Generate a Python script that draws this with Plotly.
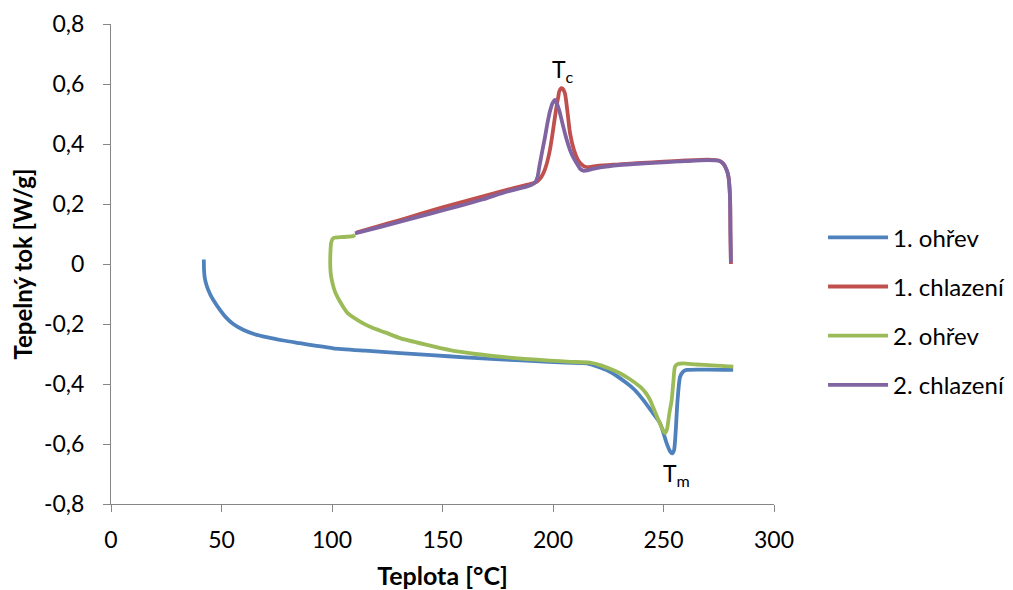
import plotly.graph_objects as go

# ---- data ----
ohrev1_x = [42.0, 42.1, 42.4, 43.2, 44.8, 46.3, 49.3, 52, 55.3, 60, 65, 70.4, 78, 85.5, 93, 100.6, 115, 130.8,
            145, 160, 176, 190, 206, 215.2, 221.3, 226, 233.3, 237, 240.8, 244.5, 248.4, 251.4, 253, 254,
            254.8, 255.5, 256.3, 257.5, 259, 260.5, 270, 281.5]
ohrev1_y = [0.015, -0.02, -0.045, -0.07, -0.10, -0.12, -0.153, -0.178, -0.20, -0.22, -0.234, -0.244, -0.255,
            -0.264, -0.273, -0.281, -0.289, -0.297, -0.304, -0.311, -0.318, -0.323, -0.329, -0.331, -0.345,
            -0.36, -0.397, -0.42, -0.453, -0.49, -0.53, -0.597, -0.625, -0.631, -0.62, -0.56, -0.46, -0.376,
            -0.358, -0.353, -0.352, -0.353]

chlaz1_x = [280.5, 280.3, 280.1, 279.4, 278.6, 277, 275, 270, 260, 250, 240, 230, 220, 216.5, 214.5, 212.8,
            211.3, 209.5, 207.7, 206.5, 205.4, 204.4, 203.6, 202.8, 202.4, 201.6, 200.9, 199.7, 198.6, 197,
            195.6, 194, 192.6, 190, 180, 170, 160, 150, 140, 130, 120, 111]
chlaz1_y = [0.0, 0.10, 0.224, 0.291, 0.313, 0.335, 0.345, 0.348, 0.345, 0.341, 0.337, 0.332, 0.327, 0.323,
            0.324, 0.333, 0.347, 0.38, 0.436, 0.51, 0.569, 0.584, 0.586, 0.575, 0.558, 0.525, 0.491, 0.43,
            0.38, 0.33, 0.302, 0.283, 0.274, 0.267, 0.249, 0.229, 0.209, 0.189, 0.167, 0.145, 0.124, 0.105]

ohrev2_x = [110.4, 109.5, 105, 100.5, 99.6, 99.3, 99.2, 99.4, 99.9, 100.8, 101.8, 103.6, 107, 112.7, 118,
            124, 130.8, 142, 153.4, 165, 176, 187, 198.6, 208, 216.7, 221.3, 226, 230.3, 235, 239.4, 242,
            243.9, 246, 247.7, 249.5, 250.7, 251.6, 252.6, 253.7, 254.5, 255.2, 256.5, 259, 265, 272, 281.6]
ohrev2_y = [0.097, 0.093, 0.09, 0.086, 0.07, 0.04, 0.0, -0.03, -0.053, -0.08, -0.10, -0.125, -0.163, -0.192,
            -0.212, -0.228, -0.247, -0.268, -0.287, -0.300, -0.309, -0.316, -0.322, -0.326, -0.329, -0.337,
            -0.35, -0.364, -0.385, -0.409, -0.43, -0.453, -0.49, -0.52, -0.55, -0.564, -0.55, -0.50, -0.453,
            -0.39, -0.342, -0.333, -0.331, -0.335, -0.338, -0.342]

chlaz2_x = [280.5, 280.3, 280.1, 279.4, 278.6, 277, 275, 270, 260, 250, 240, 230, 221.3, 217.5, 215.5,
            213.7, 212.2, 210.7, 209.2, 207.7, 206.5, 205.4, 204.3, 203.2, 202, 200.9, 199.8, 198.6, 197.5,
            196.4, 195.1, 193.8, 193, 191.9, 189.6, 179, 168, 156.4, 145, 133.8, 122, 110.4]
chlaz2_y = [0.005, 0.10, 0.224, 0.291, 0.313, 0.335, 0.344, 0.346, 0.343, 0.339, 0.335, 0.330, 0.322, 0.316,
            0.312, 0.311, 0.318, 0.336, 0.355, 0.38, 0.407, 0.436, 0.468, 0.502, 0.53, 0.547, 0.536, 0.508,
            0.47, 0.424, 0.375, 0.324, 0.29, 0.272, 0.262, 0.241, 0.215, 0.191, 0.169, 0.147, 0.124, 0.102]

series_names = ["1. ohřev", "1. chlazení", "2. ohřev", "2. chlazení"]
series_colors = ["#4F81BD", "#C0504D", "#9BBB59", "#8064A2"]

x_ticks = [0, 50, 100, 150, 200, 250, 300]
y_ticks = [-0.8, -0.6, -0.4, -0.2, 0, 0.2, 0.4, 0.6, 0.8]
y_ticktext = ["-0,8", "-0,6", "-0,4", "-0,2", "0", "0,2", "0,4", "0,6", "0,8"]

FONT = "Lato, 'Open Sans', sans-serif"

fig = go.Figure()
data = [(ohrev1_x, ohrev1_y), (chlaz1_x, chlaz1_y), (ohrev2_x, ohrev2_y), (chlaz2_x, chlaz2_y)]
for i, ((xs, ys), name, col) in enumerate(zip(data, series_names, series_colors)):
    fig.add_trace(go.Scatter(x=xs, y=ys, mode="lines", name=name, legendgroup=f"g{i}",
                             line=dict(color=col, width=3.8, shape="spline", smoothing=0.6)))

fig.add_annotation(x=204.6, y=0.645, text="T<sub>c</sub>", showarrow=False,
                   font=dict(family=FONT, size=23, color="#000000"))
fig.add_annotation(x=255.8, y=-0.70, text="T<sub>m</sub>", showarrow=False,
                   font=dict(family=FONT, size=23, color="#000000"))

fig.update_layout(
    width=1005, height=582,
    margin=dict(l=103, r=239, t=16, b=86, autoexpand=False),
    paper_bgcolor="white", plot_bgcolor="white",
    font=dict(family=FONT, size=24, color="#000000"),
    showlegend=True,
    legend=dict(xref="container", yref="container", x=0.811, y=0.479,
                xanchor="left", yanchor="middle",
                font=dict(family=FONT, size=24), tracegroupgap=15, itemwidth=60,
                bgcolor="rgba(0,0,0,0)"),
    xaxis=dict(range=[0, 300], tickvals=x_ticks, showgrid=False, zeroline=False, automargin=False,
               showline=True, linecolor="#868686", linewidth=1,
               ticks="outside", ticklen=7, tickcolor="#868686", ticklabelstandoff=8,
               tickfont=dict(size=23),
               title=dict(text="<b>Teplota [°C]</b>", standoff=16, font=dict(size=25))),
    yaxis=dict(range=[-0.8, 0.8], tickvals=y_ticks, ticktext=y_ticktext, showgrid=False,
               zeroline=False, showline=True, linecolor="#868686", linewidth=1, automargin=False,
               ticks="outside", ticklen=7, tickcolor="#868686", ticklabelstandoff=14,
               tickfont=dict(size=23),
               title=dict(text="<b>Tepelný tok [W/g]</b>", standoff=10, font=dict(size=24))),
)

fig.write_html("out.html")
